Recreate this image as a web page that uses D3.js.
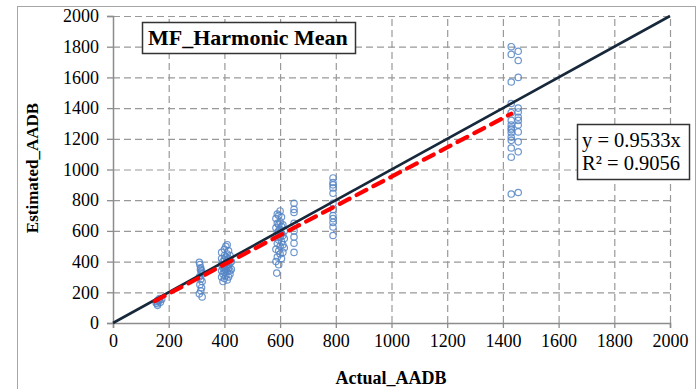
<!DOCTYPE html>
<html><head><meta charset="utf-8">
<script src="https://cdn.jsdelivr.net/npm/d3@7"></script>
<style>body{margin:0;background:#fff;} svg{display:block;} text{font-family:'Liberation Serif','Times New Roman',serif;}</style>
</head><body><svg id="c" width="697" height="389"></svg>
<script>
// Data (Actual_AADB, Estimated_AADB)
const actual = [
 155,158,160,162,165,168,170,160,175,
 310,312,315,318,320,310,315,320,312,318,315,310,320,316,314,
 390,390,390,390,390,395,395,395,395,400,400,400,400,400,400,400,405,405,405,405,405,410,410,410,410,410,410,415,415,415,415,415,420,420,420,420,425,425,
 585,585,585,585,585,590,590,590,590,590,595,595,595,595,595,595,600,600,600,600,600,600,605,605,605,605,605,610,610,610,610,615,615,615,588,
 650,650,650,650,650,650,650,650,
 790,790,790,790,790,790,790,790,790,790,790,790,
 1430,1430,1430,1430,1430,1430,1430,1430,1430,1430,1430,1430,1430,1430,1430,
 1455,1455,1455,1455,1455,1455,1455,1455,1455,1455,1455,1455
];
const estimated = [
 130,140,125,150,145,160,135,115,155,
 395,380,360,340,320,300,285,270,250,230,210,190,170,330,350,
 300,340,380,420,460,270,320,360,400,290,330,350,370,410,440,480,310,345,390,430,500,280,335,365,395,450,510,300,355,380,420,470,320,340,390,440,350,400,
 400,480,560,620,680,430,520,590,650,710,380,470,540,600,640,700,450,500,560,610,660,730,420,530,580,630,690,460,510,570,640,490,550,600,325,
 780,740,720,650,600,560,520,460,
 945,915,900,880,845,780,740,700,680,655,625,570,
 1800,1750,1570,1430,1370,1290,1270,1260,1240,1190,1140,1080,840,1320,1210,
 1770,1710,1600,1400,1375,1320,1245,1180,1115,850,1290,1340
];
const xTicks = [0,200,400,600,800,1000,1200,1400,1600,1800,2000];
const yTicks = [0,200,400,600,800,1000,1200,1400,1600,1800,2000];
const slope = 0.9533;
const trendRange = [150, 1430];
const titleText = "MF_Harmonic Mean";
const eqLines = ["y = 0.9533x", "R\u00b2 = 0.9056"];
const xTitle = "Actual_AADB", yTitle = "Estimated_AADB";

const svg = d3.select("#c");
const serif = "Liberation Serif, Times New Roman, serif";
// outer frame
svg.append("rect").attr("x",17.5).attr("y",6.5).attr("width",678).attr("height",400)
  .attr("fill","#fff").attr("stroke","#a6a6a6").attr("stroke-width",1);

const x = d3.scaleLinear().domain([0,2000]).range([113,670]);
const y = d3.scaleLinear().domain([0,2000]).range([323,16]);

// grid
const g = svg.append("g");
g.selectAll(".hg").data(yTicks.filter(d=>d>0)).join("line")
  .attr("x1",x(0)).attr("x2",x(2000)).attr("y1",d=>y(d)+0.5).attr("y2",d=>y(d)+0.5)
  .attr("stroke","#999").attr("stroke-width",1.2).attr("stroke-dasharray","7,4");
g.selectAll(".vg").data(xTicks.filter(d=>d>0)).join("line")
  .attr("y1",y(0)).attr("y2",y(2000)).attr("x1",d=>x(d)+0.5).attr("x2",d=>x(d)+0.5)
  .attr("stroke","#999").attr("stroke-width",1.2).attr("stroke-dasharray","7,4");

// axes
const xa = svg.append("g").attr("transform",`translate(0,${y(0)})`)
  .call(d3.axisBottom(x).tickValues(xTicks).tickSize(5).tickPadding(6).tickFormat(d3.format("d")));
const ya = svg.append("g").attr("transform",`translate(${x(0)},0)`)
  .call(d3.axisLeft(y).tickValues(yTicks).tickSize(6).tickPadding(8).tickFormat(d3.format("d")));
[xa,ya].forEach(a=>{
  a.attr("font-family",null).attr("font-size",null);
  a.select(".domain").attr("stroke","#8c8c8c").attr("stroke-width",1.5);
  a.selectAll(".tick line").attr("stroke","#8c8c8c").attr("stroke-width",1.3);
  a.selectAll("text").style("font-family",serif).style("font-size","18px").attr("fill","#000");
});

// points
svg.append("g").selectAll("circle").data(actual.map((a,i)=>[a,estimated[i]])).join("circle")
  .attr("cx",d=>x(d[0])).attr("cy",d=>y(d[1])).attr("r",3.2)
  .attr("fill","none").attr("stroke","#5585c5").attr("stroke-width",1.2).attr("stroke-opacity",0.85);

// 1:1 line
svg.append("line").attr("x1",x(0)).attr("y1",y(0)).attr("x2",x(2000)).attr("y2",y(2000))
  .attr("stroke","#17283b").attr("stroke-width",2.6);
// trend line
svg.append("line").attr("x1",x(trendRange[0])).attr("y1",y(trendRange[0]*slope))
  .attr("x2",x(trendRange[1])).attr("y2",y(trendRange[1]*slope))
  .attr("stroke","#ff0000").attr("stroke-width",4.2).attr("stroke-dasharray","11,8").attr("stroke-linecap","round");

// title box
svg.append("rect").attr("x",142.5).attr("y",22.5).attr("width",213).attr("height",31)
  .attr("fill","#fff").attr("stroke","#333").attr("stroke-width",1.5);
svg.append("text").attr("x",148).attr("y",45).style("font-family",serif).attr("font-weight","bold")
  .attr("font-size",22).attr("fill","#000").text(titleText);

// equation box
svg.append("rect").attr("x",577.5).attr("y",124.5).attr("width",112).attr("height",55)
  .attr("fill","#fff").attr("stroke","#333").attr("stroke-width",1.5);
svg.append("g").selectAll("text").data(eqLines).join("text")
  .attr("x",582).attr("y",(d,i)=>147+i*23).style("font-family",serif).attr("font-size",20.5)
  .attr("fill","#000").text(d=>d);

// axis titles
svg.append("text").attr("x",391).attr("y",384).attr("text-anchor","middle")
  .style("font-family",serif).attr("font-weight","bold").attr("font-size",18).text(xTitle);
svg.append("text").attr("transform","translate(38,168) rotate(-90)").attr("text-anchor","middle")
  .style("font-family",serif).attr("font-weight","bold").attr("font-size",17).text(yTitle);
</script></body></html>
